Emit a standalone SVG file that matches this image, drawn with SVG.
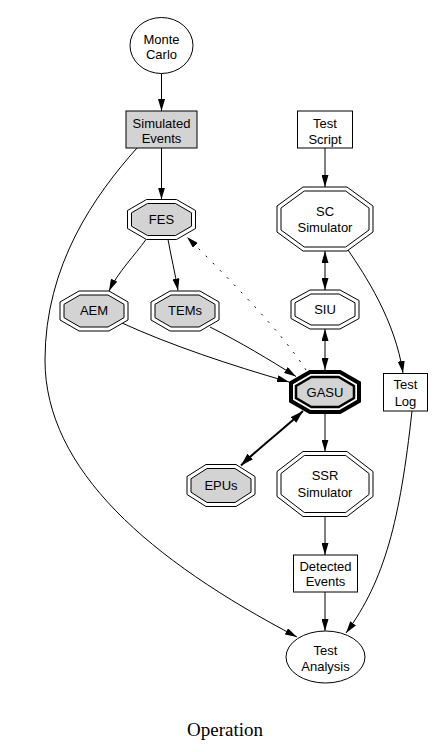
<svg xmlns="http://www.w3.org/2000/svg" width="448" height="752" viewBox="0 0 448 752">
<style>
text{font-family:"Liberation Sans",Arial,Helvetica,sans-serif;font-size:13px;fill:#000;text-anchor:middle}
.title{font-family:"Liberation Serif","Times New Roman",serif;font-size:19px}
.shape{fill:#fff;stroke:#000;stroke-width:1}
.fill{fill:#d3d3d3;stroke:#000;stroke-width:1}
.edge{fill:none;stroke:#000;stroke-width:1}
.dot{stroke-dasharray:2,8}
.bold{stroke-width:2}
</style>
<defs>
<marker id="arr" viewBox="0 0 12 7" refX="12" refY="3.5" markerWidth="12" markerHeight="7" markerUnits="userSpaceOnUse" orient="auto-start-reverse">
<path d="M0,0 L12,3.5 L0,7 z" fill="#000" stroke="none"/>
</marker>
<marker id="arrb" viewBox="0 0 13 8" refX="13" refY="4" markerWidth="13" markerHeight="8" markerUnits="userSpaceOnUse" orient="auto-start-reverse">
<path d="M0,0 L13,4 L0,8 z" fill="#000" stroke="none"/>
</marker>
</defs>
<rect width="448" height="752" fill="#fff"/>

<g id="edges">
<path class="edge" d="M161.5,73.5 L161.5,111" marker-end="url(#arr)"/>
<path class="edge" d="M161.5,148 L161.5,199.5" marker-end="url(#arr)"/>
<path class="edge" d="M137,148 C95,195 45,265 45,360 C45,470 150,560 297,637" marker-end="url(#arr)"/>
<path class="edge" d="M146,239.5 C135,255 118,272 109,291" marker-end="url(#arr)"/>
<path class="edge" d="M168,239.5 C171,256 175,273 178,290.5" marker-end="url(#arr)"/>
<path class="edge" d="M122,323 C170,345 230,365 289,382" marker-end="url(#arr)"/>
<path class="edge" d="M210,327 C240,342 270,360 296,376.5" marker-end="url(#arr)"/>
<path class="edge dot" d="M306,370 C280,330 230,280 187,237" marker-end="url(#arr)"/>
<path class="edge" d="M325,148 L325,187" marker-end="url(#arr)"/>
<path class="edge" d="M325,251 L325,290" marker-start="url(#arr)" marker-end="url(#arr)"/>
<path class="edge" d="M325,329 L325,370" marker-start="url(#arr)" marker-end="url(#arr)"/>
<path class="edge" d="M348,250 C365,275 395,320 403,373" marker-end="url(#arr)"/>
<path class="edge bold" d="M303,411 C285,428 262,445 241,465.5" marker-start="url(#arrb)" marker-end="url(#arrb)"/>
<path class="edge" d="M325,414 L325,451.5" marker-end="url(#arr)"/>
<path class="edge" d="M325,516.5 L325,555" marker-end="url(#arr)"/>
<path class="edge" d="M325,592 L325,631" marker-end="url(#arr)"/>
<path class="edge" d="M412,411 C400,520 385,580 346,633" marker-end="url(#arr)"/>
</g>

<g id="monte-carlo">
<ellipse class="shape" cx="161.5" cy="45.5" rx="31.5" ry="28"/>
<text x="161.5" y="44">Monte</text>
<text x="161.5" y="59">Carlo</text>
</g>

<g id="simulated-events">
<rect class="fill" x="126" y="111" width="71" height="37"/>
<text x="161.5" y="127.5">Simulated</text>
<text x="161.5" y="143">Events</text>
</g>

<g id="test-script">
<rect class="shape" x="297.5" y="111" width="55" height="37"/>
<text x="325" y="128">Test</text>
<text x="325" y="143.5">Script</text>
</g>

<g id="fes">
<polygon class="shape" points="146.5,199.5 176.5,199.5 195.5,210.5 195.5,228.5 176.5,239.5 146.5,239.5 127.5,228.5 127.5,210.5"/>
<polygon class="fill" points="147.5,203.5 175.5,203.5 191.5,212.8 191.5,226.2 175.5,235.5 147.5,235.5 131.5,226.2 131.5,212.8"/>
<text x="161.5" y="224">FES</text>
</g>

<g id="aem">
<polygon class="shape" points="79,291 109,291 128,302 128,320 109,331 79,331 60,320 60,302"/>
<polygon class="fill" points="80,295 108,295 124,304.3 124,317.7 108,327 80,327 64,317.7 64,304.3"/>
<text x="94" y="315">AEM</text>
</g>

<g id="tems">
<polygon class="shape" points="170,291 200,291 219,302 219,320 200,331 170,331 151,320 151,302"/>
<polygon class="fill" points="171,295 199,295 215,304.3 215,317.7 199,327 171,327 155,317.7 155,304.3"/>
<text x="185" y="315">TEMs</text>
</g>

<g id="sc-simulator">
<polygon class="shape" points="303,187 347,187 373,206 373,232 347,251 303,251 277,232 277,206"/>
<polygon class="shape" points="304.3,191 345.7,191 369,208 369,230 345.7,247 304.3,247 281,230 281,208"/>
<text x="325" y="216">SC</text>
<text x="325" y="232">Simulator</text>
</g>

<g id="siu">
<polygon class="shape" points="310,290 340,290 359,300.5 359,318.5 340,329 310,329 291,318.5 291,300.5"/>
<polygon class="shape" points="311,294 339,294 355,302.8 355,316.2 339,325 311,325 295,316.2 295,302.8"/>
<text x="325" y="314">SIU</text>
</g>

<g id="gasu">
<polygon fill="#fff" stroke="#000" stroke-width="4" points="310,372 340,372 359,383 359,401 340,412 310,412 291,401 291,383"/>
<polygon fill="#d3d3d3" stroke="#000" stroke-width="2.5" points="311.3,377 338.7,377 354,385.9 354,398.1 338.7,407 311.3,407 296,398.1 296,385.9"/>
<text x="325" y="397">GASU</text>
</g>

<g id="test-log">
<rect class="shape" x="383.5" y="373.5" width="44" height="37.5"/>
<text x="405.5" y="389">Test</text>
<text x="405.5" y="405.5">Log</text>
</g>

<g id="epus">
<polygon class="shape" points="206,464.5 236,464.5 255,476.5 255,494.5 236,506.5 206,506.5 187,494.5 187,476.5"/>
<polygon class="fill" points="207,468.5 235,468.5 251,478.8 251,492.2 235,502.5 207,502.5 191,492.2 191,478.8"/>
<text x="221" y="490">EPUs</text>
</g>

<g id="ssr-simulator">
<polygon class="shape" points="303,451.5 347,451.5 373,471.5 373,496.5 347,516.5 303,516.5 277,496.5 277,471.5"/>
<polygon class="shape" points="304.3,455.5 345.7,455.5 369,473.5 369,494.5 345.7,512.5 304.3,512.5 281,494.5 281,473.5"/>
<text x="325" y="480">SSR</text>
<text x="325" y="497">Simulator</text>
</g>

<g id="detected-events">
<rect class="shape" x="293.5" y="555" width="64" height="37"/>
<text x="325.5" y="571">Detected</text>
<text x="325.5" y="586">Events</text>
</g>

<g id="test-analysis">
<ellipse class="shape" cx="325.5" cy="657" rx="39.5" ry="26"/>
<text x="325.5" y="655">Test</text>
<text x="325.5" y="671">Analysis</text>
</g>

<text class="title" x="225" y="735.5">Operation</text>
</svg>
